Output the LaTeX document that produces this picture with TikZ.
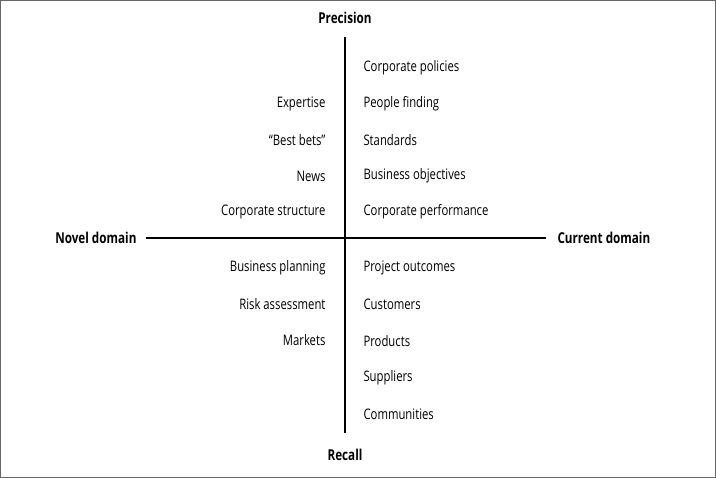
\documentclass[tikz,border=0pt]{standalone}
\usepackage{fontspec}
\setmainfont[FakeStretch=0.78]{Open Sans}
\begin{document}
\begin{tikzpicture}[x=1pt,y=-1pt,
  item/.style={font=\fontsize{14.5}{16}\selectfont},
  axlabel/.style={font=\fontsize{15}{17}\selectfont\bfseries},
  axis/.style={line width=1.8pt}]
  \draw[line width=0.6pt,black!60] (0.5,0.5) rectangle (715.5,477.5);
  \useasboundingbox (0,0) rectangle (716,478);
  % axes
  \node[axlabel] (prec) at (345,18) {Precision};
  \node[axlabel] (rec) at (345,455) {Recall};
  \node[axlabel,anchor=east] (novel) at (140,238) {Novel domain};
  \node[axlabel,anchor=west] (curr) at (554,238) {Current domain};
  \coordinate (top) at (345,37);
  \coordinate (bot) at (345,433);
  \coordinate (lft) at (146,238);
  \coordinate (rgt) at (546,238);
  \draw[axis] (top) -- (bot);
  \draw[axis] (lft) -- (rgt);
  % left side
  \foreach \t/\y in {Expertise/104,{``Best bets''}/140,News/176,Corporate structure/212,
    Business planning/268,Risk assessment/304,Markets/340}
    \node[item,anchor=east] at (329,\y) {\t};
  % right side
  \foreach \t/\y in {Corporate policies/68,People finding/104,Standards/140,
    Business objectives/176,Corporate performance/212,Project outcomes/268,
    Customers/304,Products/341,Suppliers/378,Communities/414}
    \node[item,anchor=west] at (360,\y) {\t};
\end{tikzpicture}
\end{document}
